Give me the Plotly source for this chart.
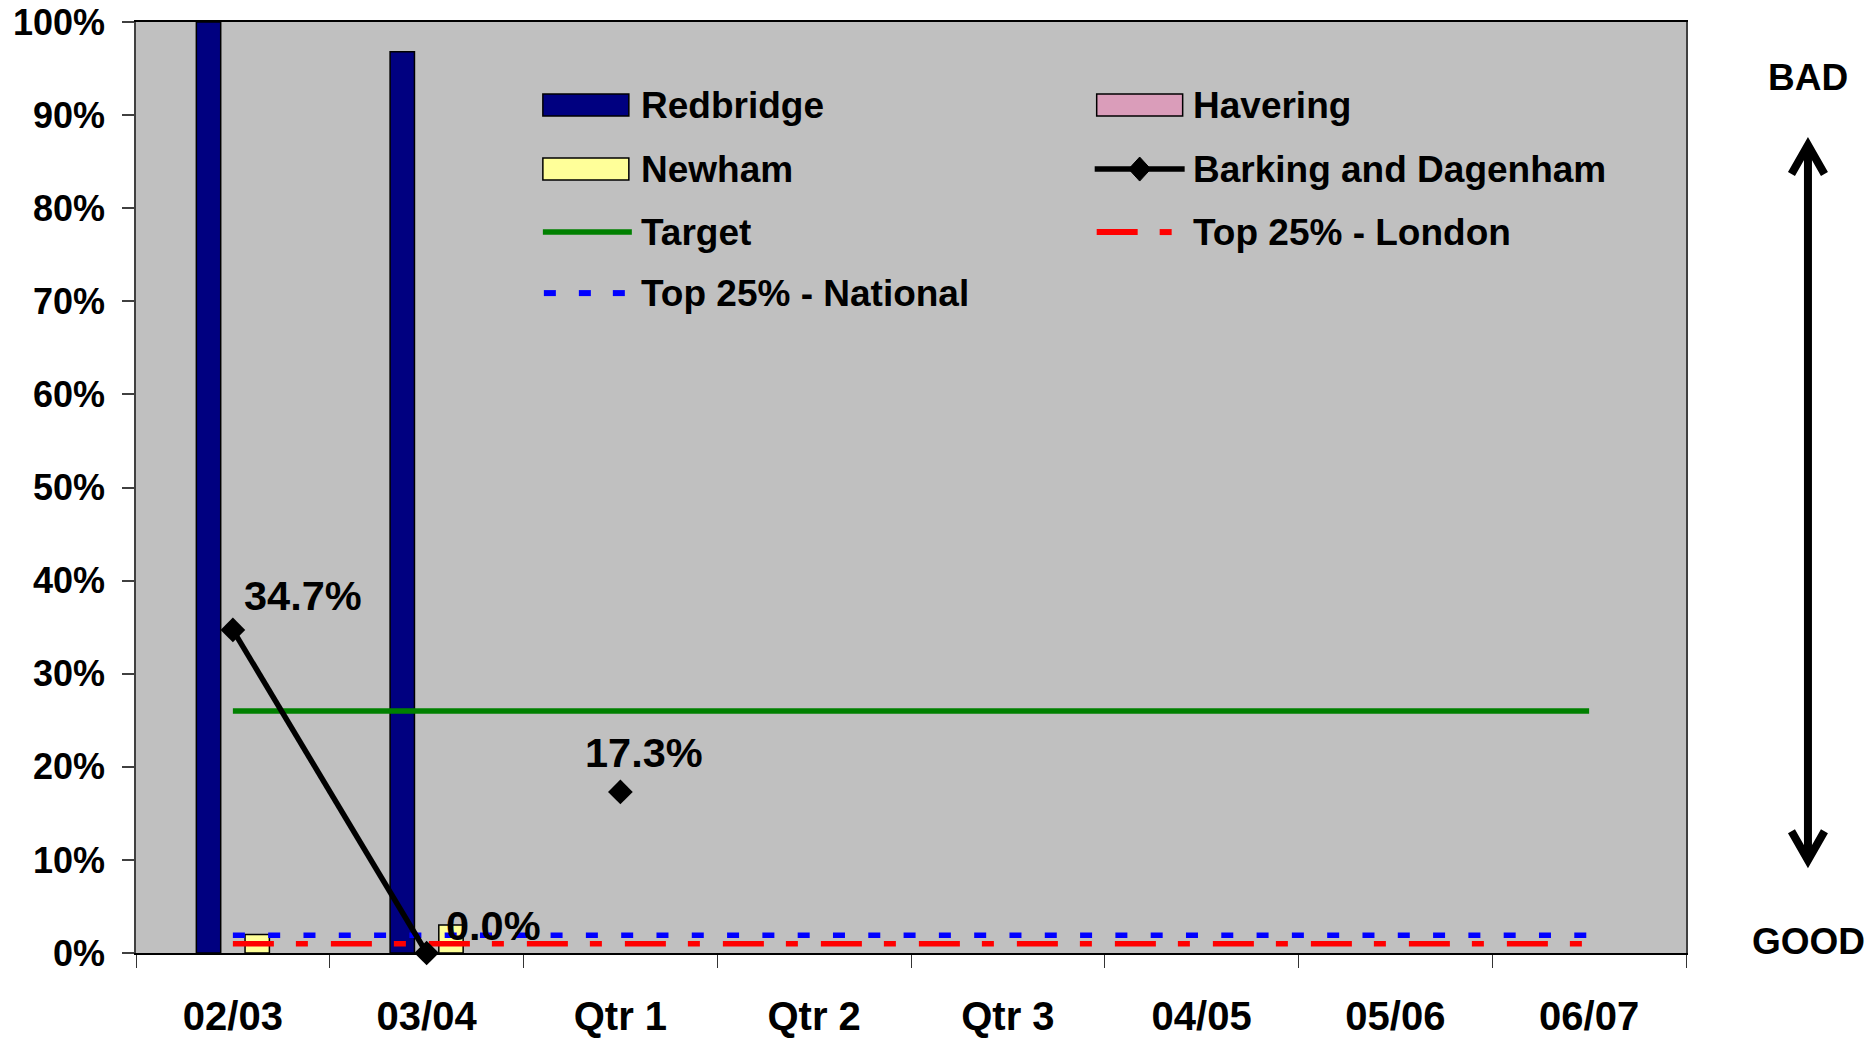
import plotly.graph_objects as go

# ---------------- data ----------------
categories = ["02/03", "03/04", "Qtr 1", "Qtr 2", "Qtr 3", "04/05", "05/06", "06/07"]
redbridge = [100.0, 96.8, None, None, None, None, None, None]
havering = [0, 0, 0, 0, 0, 0, 0, 0]
newham = [2.0, 3.0, None, None, None, None, None, None]
barking = [34.7, 0.0, 17.3, None, None, None, None, None]
target = [26.0, 26.0, 26.0, 26.0, 26.0, 26.0, 26.0, 26.0]
top25_london = [1.0, 1.0, 1.0, 1.0, 1.0, 1.0, 1.0, 1.0]
top25_national = [1.9, 1.9, 1.9, 1.9, 1.9, 1.9, 1.9, 1.9]
y_tick_vals = [0, 10, 20, 30, 40, 50, 60, 70, 80, 90, 100]
y_tick_text = ["0%", "10%", "20%", "30%", "40%", "50%", "60%", "70%", "80%", "90%", "100%"]
legend_names = ["Redbridge", "Havering", "Newham", "Barking and Dagenham",
                "Target", "Top 25% - London", "Top 25% - National"]

# ---------------- style / layout ----------------
W, H = 1870, 1040
PL, PR, PT, PB = 136.0, 1686.5, 22.0, 952.7
FONT = "Liberation Sans, Arial, Helvetica, sans-serif"
NAVY, YELLOW, PINK = "#000080", "#FFFF99", "#DA9DBA"
GREEN, RED, BLUE = "#008000", "#FF0000", "#0000FF"


def fx(px):
    return (px - PL) / (PR - PL)


def fy(py):
    return (PB - py) / (PB - PT)


fig = go.Figure()

fig.add_trace(go.Bar(name="Redbridge", x=categories, y=redbridge,
                     marker=dict(color=NAVY, line=dict(color="black", width=1.5)),
                     showlegend=False))
fig.add_trace(go.Bar(name="Havering", x=categories, y=havering,
                     marker=dict(color=PINK, line=dict(color="black", width=0)),
                     showlegend=False))
fig.add_trace(go.Bar(name="Newham", x=categories, y=newham,
                     marker=dict(color=YELLOW, line=dict(color="black", width=1.5)),
                     showlegend=False))

fig.add_trace(go.Scatter(name="Target", x=categories, y=target, mode="lines",
                         line=dict(color=GREEN, width=5.5), showlegend=False))
fig.add_trace(go.Scatter(name="Top 25% - London", x=categories, y=top25_london, mode="lines",
                         line=dict(color=RED, width=5.5, dash="41px,22px,12px,23px"),
                         showlegend=False))
fig.add_trace(go.Scatter(name="Top 25% - National", x=categories, y=top25_national, mode="lines",
                         line=dict(color=BLUE, width=5.5, dash="12px,23.3px"),
                         showlegend=False))

# Barking and Dagenham: connected annual points, separate quarterly point
fig.add_trace(go.Scatter(name="Barking and Dagenham", x=categories[:2], y=barking[:2],
                         mode="lines+markers", cliponaxis=False,
                         line=dict(color="black", width=5.5),
                         marker=dict(symbol="diamond", size=19, color="black"),
                         showlegend=False))
fig.add_trace(go.Scatter(name="Barking and Dagenham", x=categories[2:3], y=barking[2:3],
                         mode="markers", cliponaxis=False,
                         marker=dict(symbol="diamond", size=19, color="black"),
                         showlegend=False))

annotations = []
label_shifts = [(70, 34), (67, 28), (23.5, 39)]
k = 0
for c, v in zip(categories, barking):
    if v is None:
        continue
    dx, dy = label_shifts[k]
    k += 1
    annotations.append(dict(x=c, y=v, xref="x", yref="y", text=f"{v:.1f}%",
                            showarrow=False, xanchor="center", yanchor="middle",
                            xshift=dx, yshift=dy,
                            font=dict(family=FONT, size=41.5, color="black", weight="bold")))

# ---------------- custom legend ----------------
shapes = []
col_sw = [543, 1097]
col_tx = [639, 1191]
rows = [105, 169, 232, 293]
sw_w = 86


def rect(x0, y0, x1, y1, fill, lw=1.5):
    return dict(type="rect", xref="paper", yref="paper",
                x0=fx(x0), x1=fx(x1), y0=fy(y1), y1=fy(y0),
                fillcolor=fill, line=dict(color="black", width=lw), layer="above")


def seg(x0, y0, x1, y1, color, width):
    return dict(type="line", xref="paper", yref="paper",
                x0=fx(x0), x1=fx(x1), y0=fy(y0), y1=fy(y1),
                line=dict(color=color, width=width), layer="above")


# Redbridge
shapes.append(rect(col_sw[0], rows[0] - 11, col_sw[0] + sw_w, rows[0] + 11, NAVY))
# Havering
shapes.append(rect(col_sw[1], rows[0] - 11, col_sw[1] + sw_w, rows[0] + 11, PINK))
# Newham
shapes.append(rect(col_sw[0], rows[1] - 11, col_sw[0] + sw_w, rows[1] + 11, YELLOW))
# Barking line + diamond
shapes.append(seg(col_sw[1] - 2, rows[1], col_sw[1] + 88, rows[1], "black", 5.5))
cx = col_sw[1] + 43
shapes.append(dict(type="path", xref="paper", yref="paper",
                   path=(f"M{fx(cx)},{fy(rows[1] - 12)} L{fx(cx + 11)},{fy(rows[1])} "
                         f"L{fx(cx)},{fy(rows[1] + 12)} L{fx(cx - 11)},{fy(rows[1])} Z"),
                   fillcolor="black", line=dict(color="black", width=1), layer="above"))
# Target
shapes.append(seg(col_sw[0], rows[2], col_sw[0] + 89, rows[2], GREEN, 5.5))
# London
shapes.append(seg(col_sw[1], rows[2], col_sw[1] + 41, rows[2], RED, 6))
shapes.append(seg(col_sw[1] + 63, rows[2], col_sw[1] + 75, rows[2], RED, 6))
# National
for d0 in (1, 36, 70):
    shapes.append(seg(col_sw[0] + d0, rows[3], col_sw[0] + d0 + 12, rows[3], BLUE, 6))

legend_pos = [(0, 0), (1, 0), (0, 1), (1, 1), (0, 2), (1, 2), (0, 3)]
for name, (ci, ri) in zip(legend_names, legend_pos):
    annotations.append(dict(x=fx(col_tx[ci]), y=fy(rows[ri]), xref="paper", yref="paper",
                            text=name, showarrow=False, xanchor="left", yanchor="middle",
                            font=dict(family=FONT, size=37, color="black", weight="bold")))

# ---------------- BAD / GOOD arrow ----------------
AX = 1808.5
shapes.append(seg(AX, 145, AX, 860, "black", 8))
shapes.append(dict(type="path", xref="paper", yref="paper",
                   path=f"M{fx(AX - 16.5)},{fy(174)} L{fx(AX)},{fy(145)} L{fx(AX + 16.5)},{fy(174)}",
                   line=dict(color="black", width=8), layer="above"))
shapes.append(dict(type="path", xref="paper", yref="paper",
                   path=f"M{fx(AX - 16.5)},{fy(831)} L{fx(AX)},{fy(860)} L{fx(AX + 16.5)},{fy(831)}",
                   line=dict(color="black", width=8), layer="above"))
annotations.append(dict(x=fx(1809), y=fy(77), xref="paper", yref="paper", text="BAD",
                        showarrow=False, xanchor="center", yanchor="middle",
                        font=dict(family=FONT, size=37, color="black", weight="bold")))
annotations.append(dict(x=fx(1809), y=fy(941), xref="paper", yref="paper", text="GOOD",
                        showarrow=False, xanchor="center", yanchor="middle",
                        font=dict(family=FONT, size=37, color="black", weight="bold")))

fig.update_layout(
    width=W, height=H,
    margin=dict(l=PL, r=W - PR, t=PT, b=H - PB, pad=0, autoexpand=False),
    paper_bgcolor="white", plot_bgcolor="#C0C0C0",
    barmode="group", bargap=0.623, bargroupgap=0,
    showlegend=False,
    font=dict(family=FONT, color="black"),
    shapes=shapes, annotations=annotations,
    xaxis=dict(type="category", categoryorder="array", categoryarray=categories,
               range=[-0.5, 7.5], tickson="boundaries", ticks="outside", ticklen=13,
               tickcolor="#333333", tickwidth=1.2, showline=True, linecolor="black",
               linewidth=2, mirror=True, showgrid=False, zeroline=False, automargin=False,
               layer="below traces", ticklabelstandoff=27,
               tickfont=dict(family=FONT, size=40, color="black", weight="bold")),
    yaxis=dict(range=[0, 100], tickmode="array", tickvals=y_tick_vals, ticktext=y_tick_text,
               ticks="outside", automargin=False,
               ticklen=12, tickcolor="#404040", tickwidth=1.5, showline=True,
               linecolor="#404040", linewidth=1.5, mirror=True, showgrid=False,
               zeroline=False, ticklabelstandoff=10,
               tickfont=dict(family=FONT, size=36, color="black", weight="bold")),
)

fig.write_html("out.html", config={"displayModeBar": False},
               post_script="document.body.style.margin='0';document.body.style.overflow='hidden';")
